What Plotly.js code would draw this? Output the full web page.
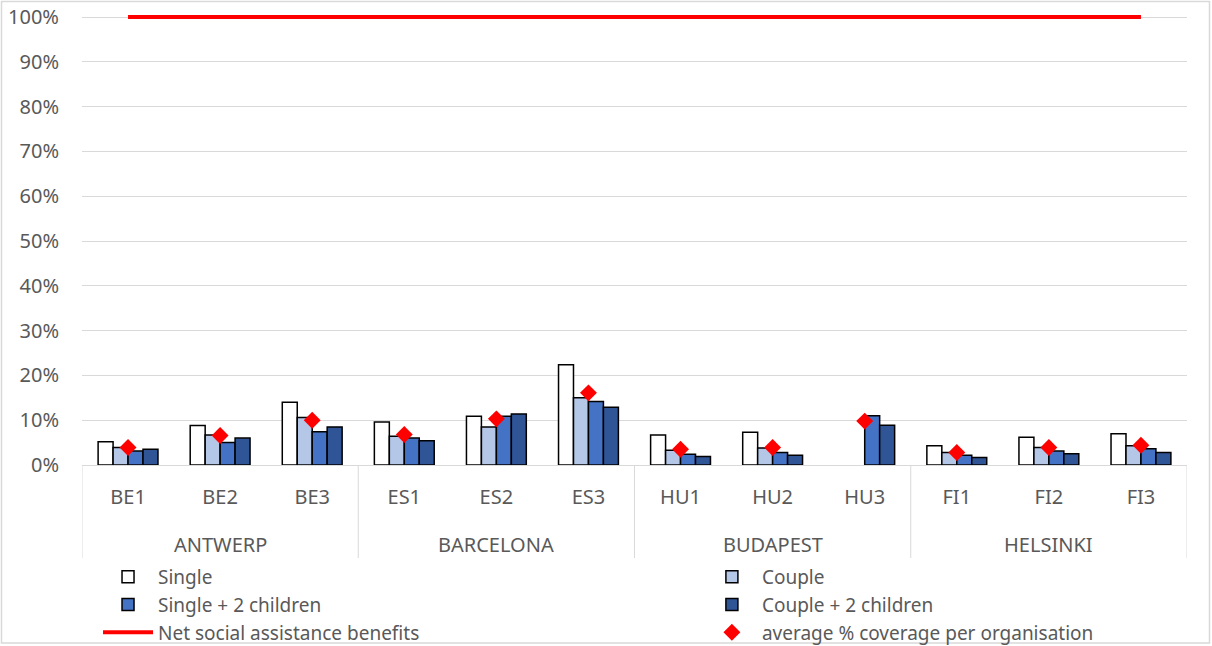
<!DOCTYPE html>
<html>
<head>
<meta charset="utf-8">
<script src="https://cdn.plot.ly/plotly-3.0.1.min.js"></script>
<style>
html,body{margin:0;padding:0;background:#fff;}
#chart{width:1212px;height:646px;}
</style>
</head>
<body>
<div id="chart"></div>
<script>
var cities = ['ANTWERP','ANTWERP','ANTWERP','BARCELONA','BARCELONA','BARCELONA','BUDAPEST','BUDAPEST','BUDAPEST','HELSINKI','HELSINKI','HELSINKI'];
var codes = ['BE1','BE2','BE3','ES1','ES2','ES3','HU1','HU2','HU3','FI1','FI2','FI3'];
var single = [0.052,0.088,0.140,0.096,0.109,0.224,0.067,0.073,null,0.043,0.062,0.070];
var couple = [0.039,0.067,0.106,0.064,0.085,0.150,0.033,0.038,null,0.028,0.039,0.043];
var singleKids = [0.031,0.050,0.074,0.060,0.109,0.142,0.024,0.028,0.110,0.022,0.031,0.036];
var coupleKids = [0.035,0.060,0.085,0.054,0.114,0.129,0.019,0.022,0.089,0.017,0.025,0.028];
var netBenefits = [1,1,1,1,1,1,1,1,1,1,1,1];
var avgCoverage = [0.039,0.066,0.100,0.068,0.103,0.161,0.035,0.039,0.098,0.028,0.039,0.044];

var outline = {color:'#000000', width:1.5};
function barTrace(name, vals, color, legendId){
  return {type:'bar', name:name, x:codes, y:vals, legend:legendId,
          marker:{color:color, line:outline}, hoverinfo:'skip'};
}
var data = [
  barTrace('Single', single, '#FFFFFF', 'legend'),
  barTrace('Couple', couple, '#B4C7E7', 'legend2'),
  barTrace('Single + 2 children', singleKids, '#4472C4', 'legend'),
  barTrace('Couple + 2 children', coupleKids, '#2F5597', 'legend2'),
  {type:'scatter', mode:'lines', name:'Net social assistance benefits', x:codes, y:netBenefits,
   legend:'legend', cliponaxis:false, line:{color:'#FF0000', width:4}},
  {type:'scatter', mode:'markers', name:'average % coverage per organisation', x:codes, y:avgCoverage,
   legend:'legend2', cliponaxis:false, marker:{symbol:'diamond', color:'#FF0000', size:13}}
];

// group (city) labels and dividers of the two-level category axis, derived from the arrays
var groups = [];
cities.forEach(function(c, i){
  if(!groups.length || groups[groups.length-1].name !== c){ groups.push({name:c, start:i, end:i}); }
  else { groups[groups.length-1].end = i; }
});
var divColor = '#D9D9D9';
var plotTop = 13, plotBottom = 465, plotH = plotBottom - plotTop;
var divDepth = (558 - plotBottom) / plotH;
var groupLabelY = (plotBottom - 544) / plotH;
var annotations = groups.map(function(g){
  return {xref:'x', yref:'paper', x:(g.start + g.end) / 2, y:groupLabelY, text:g.name,
          showarrow:false, xanchor:'center', yanchor:'middle',
          font:{size:20, color:'#595959'}};
});
var shapes = [];
groups.forEach(function(g, k){
  if(k === 0){
    shapes.push({type:'line', xref:'x', yref:'paper', x0:g.start - 0.5, x1:g.start - 0.5, y0:0, y1:-divDepth,
                 line:{color:divColor, width:1}});
  }
  shapes.push({type:'line', xref:'x', yref:'paper', x0:g.end + 0.5, x1:g.end + 0.5, y0:0, y1:-divDepth,
               line:{color:divColor, width:1}});
});
// outer chart border
shapes.push({type:'rect', xref:'paper', yref:'paper',
  x0:(1.5-82)/1105, x1:(1209.5-82)/1105, y0:(plotBottom-643)/plotH, y1:(plotBottom-1.5)/plotH,
  line:{color:divColor, width:1.5}, fillcolor:'rgba(0,0,0,0)', layer:'below'});

var legendBase = {orientation:'v', yanchor:'top', y:(plotBottom-558)/plotH, xanchor:'left', itemwidth:50,
  traceorder:'normal', font:{size:19, color:'#595959'}, bgcolor:'rgba(0,0,0,0)', borderwidth:0};

var layout = {
  width:1212, height:646,
  margin:{l:82, r:25, t:plotTop, b:646-plotBottom, autoexpand:false},
  paper_bgcolor:'#FFFFFF', plot_bgcolor:'#FFFFFF',
  font:{family:'"Noto Sans", sans-serif', size:20, color:'#595959'},
  barmode:'group', bargap:0.35, bargroupgap:0,
  showlegend:true,
  legend:Object.assign({}, legendBase, {x:0.0145}),
  legend2:Object.assign({}, legendBase, {x:0.561}),
  xaxis:{type:'category', range:[-0.5, 11.5], showline:true, linecolor:divColor, linewidth:1,
    ticks:'', ticklabelstandoff:14,
    tickfont:{size:20, color:'#595959'}, showgrid:false, zeroline:false},
  yaxis:{range:[0, plotH/448], tickvals:[0,0.1,0.2,0.3,0.4,0.5,0.6,0.7,0.8,0.9,1], tickformat:'.0%',
    showgrid:true, gridcolor:divColor, gridwidth:1,
    showline:false, zeroline:false, ticks:'', ticklabelstandoff:22,
    tickfont:{size:20, color:'#595959'}},
  annotations:annotations,
  shapes:shapes
};
Plotly.newPlot('chart', data, layout, {displayModeBar:false, staticPlot:true});
</script>
</body>
</html>
